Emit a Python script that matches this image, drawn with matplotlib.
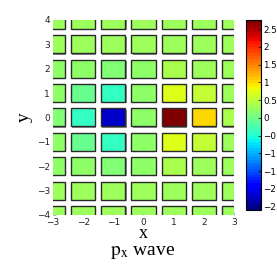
import matplotlib
matplotlib.use('Agg')
import matplotlib.pyplot as plt
import numpy as np
from matplotlib.patches import Rectangle
from matplotlib.colors import Normalize
from matplotlib.ticker import FuncFormatter

plt.rcParams['mathtext.fontset'] = 'stix'

# 格点坐标
xs = [-3, -2, -1, 0, 1, 2, 3]
ys = [4, 3, 2, 1, 0, -1, -2, -3, -4]

# 每一行的数值 (从 y=4 到 y=-4)
row_y4 = [0.28, 0.28, 0.28, 0.28, 0.28, 0.28, 0.28]
row_y3 = [0.28, 0.28, 0.28, 0.28, 0.28, 0.28, 0.28]
row_y2 = [0.24, 0.24, 0.08, 0.24, 0.40, 0.28, 0.28]
row_y1 = [0.18, -0.05, -0.4, 0.24, 0.74, 0.56, 0.28]
row_y0 = [0.14, -0.4, -2.2, 0.24, 2.75, 1.05, 0.34]
row_ym1 = [0.18, -0.05, -0.4, 0.24, 0.74, 0.56, 0.28]
row_ym2 = [0.24, 0.18, 0.08, 0.24, 0.40, 0.28, 0.28]
row_ym3 = [0.28, 0.28, 0.28, 0.28, 0.28, 0.28, 0.28]
row_ym4 = [0.28, 0.28, 0.28, 0.28, 0.28, 0.28, 0.28]
rows = [row_y4, row_y3, row_y2, row_y1, row_y0, row_ym1, row_ym2, row_ym3, row_ym4]

cbar_ticks = [-2.5, -2, -1.5, -1, -0.5, 0, 0.5, 1, 1.5, 2, 2.5]
vmin, vmax = -2.6, 2.75

cmap = plt.get_cmap('jet', 64)
norm = Normalize(vmin=vmin, vmax=vmax)

fig = plt.figure(figsize=(2.77, 2.66), dpi=100, facecolor='white')
ax = fig.add_axes([0.191, 0.192, 0.654, 0.733])
cax = fig.add_axes([0.888, 0.21, 0.054, 0.714])

w, h = 0.8, 0.74
for yi, row in zip(ys, rows):
    for xi, v in zip(xs, row):
        # 阴影
        ax.add_patch(Rectangle((xi - w / 2 + 0.04, yi - h / 2 - 0.05), w, h,
                               facecolor='#8a8a8a', edgecolor='none', zorder=1))
        ax.add_patch(Rectangle((xi - w / 2, yi - h / 2), w, h,
                               facecolor=cmap(norm(v)), edgecolor='#2a2a2a',
                               linewidth=1.0, zorder=2))

ax.set_xlim(-3, 3)
ax.set_ylim(-4, 4)
ax.set_xticks(xs)
ax.set_yticks(ys)
ax.tick_params(direction='in', length=2, width=0.5, color='#999999',
               labelsize=6.5, labelcolor='#222222', pad=2)
for s in ax.spines.values():
    s.set_visible(False)

ax.set_xlabel('x', family='Liberation Serif', fontsize=13, labelpad=-1)
ax.set_ylabel('y', family='Liberation Serif', fontsize=14, labelpad=3)
fig.text(0.515, 0.052, r'$\mathrm{p_x}$ wave', ha='center', va='center',
         family='Liberation Serif', fontsize=14)

fmt = FuncFormatter(lambda v, p: ('%g' % v).replace('-', '\u2212'))
sm = plt.cm.ScalarMappable(norm=norm, cmap=cmap)
cb = fig.colorbar(sm, cax=cax, ticks=cbar_ticks, format=fmt)
cb.ax.tick_params(labelsize=6.3, length=2, width=0.5, direction='in', pad=1.5)
cb.outline.set_linewidth(0.8)

fig.savefig('out.png', dpi=100, facecolor='white')
